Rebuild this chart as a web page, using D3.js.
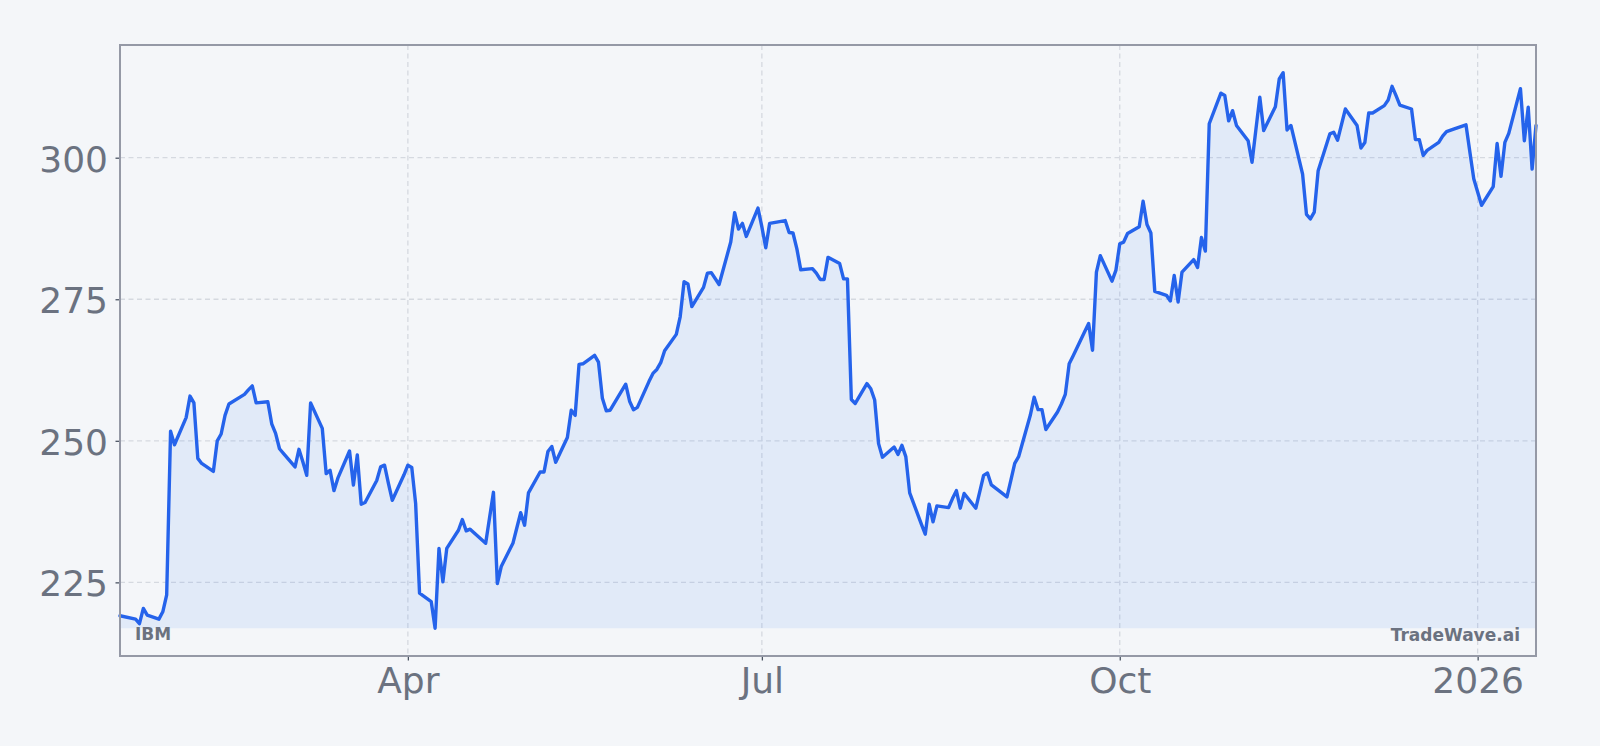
<!DOCTYPE html>
<html>
<head>
<meta charset="utf-8">
<script src="https://cdn.jsdelivr.net/npm/d3@7"></script>
<style>
  html, body { margin: 0; padding: 0; background: #f4f6f9; }
  svg { display: block; }
  text { font-family: "DejaVu Sans", sans-serif; }
</style>
</head>
<body>
<div id="chart"></div>
<script>
// IBM daily closes, Jan 2025 - Jan 2026
const dates = [
  "2025-01-17","2025-01-21","2025-01-22","2025-01-23","2025-01-24","2025-01-27","2025-01-28","2025-01-29","2025-01-30","2025-01-31",
  "2025-02-03","2025-02-04","2025-02-05","2025-02-06","2025-02-07","2025-02-10","2025-02-11","2025-02-12","2025-02-13","2025-02-14",
  "2025-02-18","2025-02-19","2025-02-20","2025-02-21","2025-02-24","2025-02-25","2025-02-26","2025-02-27","2025-02-28",
  "2025-03-03","2025-03-04","2025-03-05","2025-03-06","2025-03-07","2025-03-10","2025-03-11","2025-03-12","2025-03-13","2025-03-14",
  "2025-03-17","2025-03-18","2025-03-19","2025-03-20","2025-03-21","2025-03-24","2025-03-25","2025-03-26","2025-03-27","2025-03-28","2025-03-31",
  "2025-04-01","2025-04-02","2025-04-03","2025-04-04","2025-04-07","2025-04-08","2025-04-09","2025-04-10","2025-04-11",
  "2025-04-14","2025-04-15","2025-04-16","2025-04-17","2025-04-21","2025-04-22","2025-04-23","2025-04-24","2025-04-25",
  "2025-04-28","2025-04-29","2025-04-30","2025-05-01","2025-05-02","2025-05-05","2025-05-06","2025-05-07","2025-05-08","2025-05-09",
  "2025-05-12","2025-05-13","2025-05-14","2025-05-15","2025-05-16","2025-05-19","2025-05-20","2025-05-21","2025-05-22","2025-05-23",
  "2025-05-27","2025-05-28","2025-05-29","2025-05-30","2025-06-02","2025-06-03","2025-06-04","2025-06-05","2025-06-06",
  "2025-06-09","2025-06-10","2025-06-11","2025-06-12","2025-06-13","2025-06-16","2025-06-17","2025-06-18","2025-06-20",
  "2025-06-23","2025-06-24","2025-06-25","2025-06-26","2025-06-27","2025-06-30","2025-07-01","2025-07-02","2025-07-03",
  "2025-07-07","2025-07-08","2025-07-09","2025-07-10","2025-07-11","2025-07-14","2025-07-15","2025-07-16","2025-07-17","2025-07-18",
  "2025-07-21","2025-07-22","2025-07-23","2025-07-24","2025-07-25","2025-07-28","2025-07-29","2025-07-30","2025-07-31","2025-08-01",
  "2025-08-04","2025-08-05","2025-08-06","2025-08-07","2025-08-08","2025-08-11","2025-08-12","2025-08-13","2025-08-14","2025-08-15",
  "2025-08-18","2025-08-19","2025-08-20","2025-08-21","2025-08-22","2025-08-25","2025-08-26","2025-08-27","2025-08-28","2025-08-29",
  "2025-09-02","2025-09-03","2025-09-04","2025-09-05","2025-09-08","2025-09-09","2025-09-10","2025-09-11","2025-09-12",
  "2025-09-15","2025-09-16","2025-09-17","2025-09-18","2025-09-19","2025-09-22","2025-09-23","2025-09-24","2025-09-25","2025-09-26",
  "2025-09-29","2025-09-30","2025-10-01","2025-10-02","2025-10-03","2025-10-06","2025-10-07","2025-10-08","2025-10-09","2025-10-10",
  "2025-10-13","2025-10-14","2025-10-15","2025-10-16","2025-10-17","2025-10-20","2025-10-21","2025-10-22","2025-10-23","2025-10-24",
  "2025-10-27","2025-10-28","2025-10-29","2025-10-30","2025-10-31","2025-11-03","2025-11-04","2025-11-05","2025-11-06","2025-11-07",
  "2025-11-10","2025-11-11","2025-11-12","2025-11-13","2025-11-14","2025-11-17","2025-11-18","2025-11-19","2025-11-20","2025-11-21",
  "2025-11-24","2025-11-25","2025-11-26","2025-11-28","2025-12-01","2025-12-02","2025-12-03","2025-12-04","2025-12-05",
  "2025-12-08","2025-12-09","2025-12-10","2025-12-11","2025-12-12","2025-12-15","2025-12-16","2025-12-17","2025-12-18","2025-12-19",
  "2025-12-22","2025-12-23","2025-12-24","2025-12-26","2025-12-29","2025-12-30","2025-12-31","2026-01-02",
  "2026-01-05","2026-01-06","2026-01-07","2026-01-08","2026-01-09","2026-01-12","2026-01-13","2026-01-14","2026-01-15","2026-01-16"
]

const closes = [
  219.1,218.5,217.7,220.4,219.2,218.5,219.8,222.8,251.7,249.3,
  254.1,257.9,256.7,246.9,246.0,244.6,250.0,251.2,254.5,256.5,
  258.2,259.0,259.7,256.7,256.9,253.0,251.3,248.6,247.8,
  245.4,248.5,246.3,243.9,256.7,252.2,244.2,244.8,241.2,243.4,
  248.2,242.2,247.5,238.8,239.1,243.0,245.4,245.7,242.5,239.5,244.0,
  245.7,245.3,238.9,223.1,221.6,216.9,231.0,225.1,231.0,
  234.2,236.1,234.1,234.4,231.9,236.4,240.9,224.8,227.8,
  231.9,234.6,237.3,235.1,240.8,244.5,244.5,248.1,249.0,246.2,
  250.6,255.4,254.5,263.5,263.6,265.1,263.9,257.5,255.3,255.4,
  260.0,257.0,255.5,255.9,260.5,261.9,262.6,263.8,265.9,
  268.8,271.9,278.1,277.7,273.7,277.1,279.6,279.7,277.6,
  285.1,290.3,287.4,288.4,286.1,291.1,287.8,284.1,288.4,
  288.9,286.8,286.7,283.9,280.2,280.4,279.6,278.5,278.5,282.4,
  281.3,278.6,278.6,257.3,256.6,260.1,259.2,257.2,249.5,247.1,
  248.9,247.6,249.2,247.2,240.8,235.3,233.5,238.8,235.7,238.5,
  238.2,239.8,241.2,238.1,240.7,238.1,241.0,243.9,244.3,242.2,
  240.1,243.0,246.0,247.2,254.5,257.7,255.5,255.5,252.0,
  255.1,256.5,258.2,263.6,265.0,269.3,270.7,266.0,279.8,282.7,
  278.2,280.1,284.8,285.1,286.6,287.8,292.3,288.2,286.7,276.4,
  275.7,274.7,279.2,274.5,279.8,282.0,280.6,285.9,283.5,306.0,
  311.4,311.0,306.5,308.3,305.7,303.0,299.2,305.0,310.7,304.8,
  309.0,313.9,315.0,304.9,305.7,297.1,290.0,289.2,290.4,297.7,
  304.2,304.5,303.1,308.6,305.7,301.7,302.7,307.9,307.9,
  309.2,310.2,312.6,311.0,309.3,308.6,303.2,303.2,300.4,301.3,
  302.7,303.8,304.6,305.1,305.8,301.0,296.3,291.6,
  294.9,302.5,296.7,302.7,304.3,312.2,303.0,308.9,298.0,305.7
]

const yTicks = [225, 250, 275, 300]
const xTickDates = ["2025-04-01", "2025-07-01", "2025-10-01", "2026-01-01"]
const xTickLabels = ["Apr", "Jul", "Oct", "2026"]
const ticker = "IBM"
const brand = "TradeWave.ai"

const w = 1600
const h = 746
const plotLeft = 120, plotRight = 1536, plotTop = 45, plotBottom = 656

const parse = d3.timeParse("%Y-%m-%d")
const dataset = dates.map((d, i) => ({ date: parse(d), close: closes[i] }))

const svg = d3.select("#chart").append("svg")
  .attr("width", w)
  .attr("height", h)

svg.append("rect")
  .attr("width", w).attr("height", h)
  .attr("fill", "#f4f6f9")

let lo = d3.min(dataset, d => d.close)
let hi = d3.max(dataset, d => d.close)
let pad = (hi - lo) * 0.05

let x = d3.scaleTime()
  .domain(d3.extent(dataset, d => d.date))
  .range([plotLeft, plotRight])

let y = d3.scaleLinear()
  .domain([lo - pad, hi + pad])
  .range([plotBottom, plotTop])

// grid
let grid = svg.append("g")
  .attr("stroke", "#d5d9e0")
  .attr("stroke-width", 1.3)
  .attr("stroke-dasharray", "5,3.5")

grid.selectAll(".hgrid")
  .data(yTicks)
  .enter().append("line")
  .attr("x1", plotLeft).attr("x2", plotRight)
  .attr("y1", d => y(d)).attr("y2", d => y(d))

grid.selectAll(".vgrid")
  .data(xTickDates)
  .enter().append("line")
  .attr("x1", d => x(parse(d))).attr("x2", d => x(parse(d)))
  .attr("y1", plotTop).attr("y2", plotBottom)

// area under the line down to the lowest close
let area = d3.area()
  .x(d => x(d.date))
  .y0(y(lo))
  .y1(d => y(d.close))

svg.append("path")
  .datum(dataset)
  .attr("fill", "#3b82f6")
  .attr("fill-opacity", 0.1)
  .attr("d", area)

let line = d3.line()
  .x(d => x(d.date))
  .y(d => y(d.close))

svg.append("path")
  .datum(dataset)
  .attr("fill", "none")
  .attr("stroke", "#2563eb")
  .attr("stroke-width", 3.4)
  .attr("stroke-linejoin", "round")
  .attr("stroke-linecap", "round")
  .attr("d", line)

// watermark labels
svg.append("text")
  .attr("x", 135)
  .attr("y", 640)
  .attr("font-size", 17)
  .attr("font-weight", "bold")
  .attr("fill", "#6b7280")
  .text(ticker)

svg.append("text")
  .attr("x", 1520)
  .attr("y", 641)
  .attr("text-anchor", "end")
  .attr("font-size", 17)
  .attr("font-weight", "bold")
  .attr("fill", "#6b7280")
  .text(brand)

// axes
let xAxis = d3.axisBottom(x)
  .tickValues(xTickDates.map(parse))
  .tickFormat((d, i) => xTickLabels[i])
  .tickSize(4.5)
  .tickPadding(7.2)

let yAxis = d3.axisLeft(y)
  .tickValues(yTicks)
  .tickSize(4.5)
  .tickPadding(7.5)

let gx = svg.append("g")
  .attr("transform", "translate(0," + plotBottom + ")")
  .call(xAxis)

let gy = svg.append("g")
  .attr("transform", "translate(" + plotLeft + ",0)")
  .call(yAxis)

for (let g of [gx, gy]) {
  g.select(".domain").remove()
  g.selectAll(".tick line").attr("stroke", "#4b5563").attr("stroke-width", 1.3)
  g.selectAll(".tick text")
    .attr("fill", "#6b7280")
    .style("font-size", "36px")
    .style("font-family", "'DejaVu Sans', sans-serif")
}
gy.selectAll(".tick text").attr("dy", "0.37em")

// spines
svg.append("rect")
  .attr("x", plotLeft).attr("y", plotTop)
  .attr("width", plotRight - plotLeft).attr("height", plotBottom - plotTop)
  .attr("fill", "none")
  .attr("stroke", "#9599a6")
  .attr("stroke-width", 2)
</script>
</body>
</html>
